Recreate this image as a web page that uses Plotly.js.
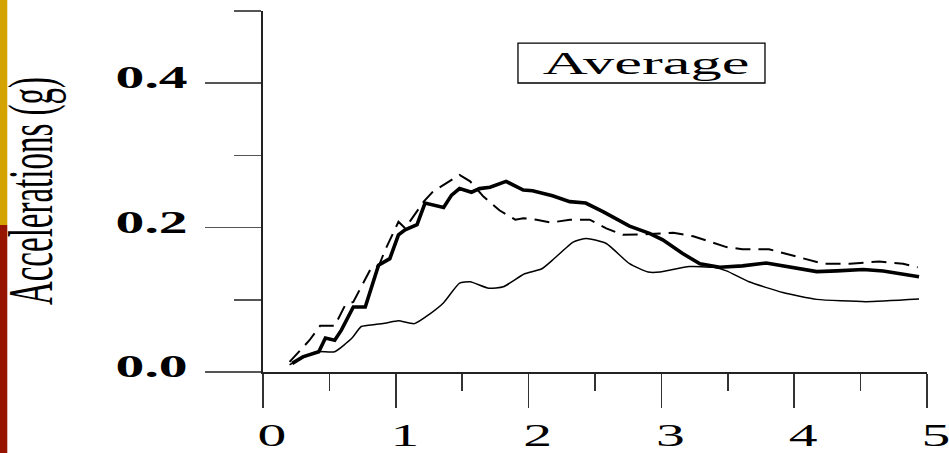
<!DOCTYPE html>
<html>
<head>
<meta charset="utf-8">
<script src="https://cdn.plot.ly/plotly-3.0.1.min.js"></script>
<style>
  html, body { margin: 0; padding: 0; background: #ffffff; }
  #chart { width: 949px; height: 453px; }
</style>
</head>
<body>
<div id="chart"></div>
<script>
// ---- data ----
var thickX = [0.22,0.30,0.42,0.47,0.54,0.59,0.68,0.77,0.87,0.955,1.02,1.07,1.16,1.22,1.36,1.42,1.48,1.57,1.63,1.71,1.83,1.96,2.03,2.18,2.31,2.43,2.56,2.76,2.91,3.01,3.16,3.29,3.44,3.61,3.79,3.965,4.17,4.32,4.52,4.67,4.94];
var thickY = [0.012,0.021,0.028,0.047,0.044,0.058,0.090,0.090,0.148,0.157,0.190,0.197,0.204,0.234,0.228,0.245,0.254,0.249,0.254,0.256,0.264,0.252,0.251,0.244,0.236,0.234,0.222,0.202,0.192,0.183,0.164,0.150,0.145,0.147,0.151,0.145,0.139,0.140,0.142,0.140,0.132];

var dashX = [0.20,0.35,0.43,0.54,0.62,0.68,0.82,0.87,0.92,1.02,1.07,1.21,1.28,1.48,1.56,1.66,1.78,1.90,1.96,2.06,2.17,2.31,2.46,2.585,2.71,2.91,3.09,3.24,3.49,3.61,3.81,4.07,4.22,4.42,4.64,4.82,4.93];
var dashY = [0.014,0.044,0.064,0.064,0.093,0.097,0.146,0.146,0.169,0.208,0.199,0.236,0.250,0.273,0.264,0.243,0.224,0.211,0.213,0.211,0.207,0.211,0.211,0.199,0.190,0.191,0.193,0.188,0.173,0.170,0.170,0.157,0.150,0.150,0.153,0.150,0.145];

var thinX = [0.20,0.40,0.54,0.67,0.74,0.855,0.93,1.02,1.14,1.26,1.36,1.48,1.56,1.70,1.81,1.97,2.10,2.18,2.335,2.435,2.585,2.76,2.90,2.99,3.21,3.39,3.49,3.66,3.915,4.17,4.54,4.94];
var thinY = [0.010,0.028,0.028,0.047,0.063,0.066,0.068,0.071,0.067,0.081,0.096,0.123,0.125,0.116,0.118,0.136,0.143,0.155,0.180,0.185,0.178,0.150,0.1385,0.1385,0.146,0.145,0.140,0.125,0.110,0.1006,0.0974,0.101];

var xTickVals = [0,1,2,3,4,5];
var xTickText = ['0','1','2','3','4','5'];
var yTickVals = [0,0.2,0.4];
var yTickText = ['0.0','0.2','0.4'];
var yTitleText = 'Accelerations (g)';
var boxText = 'Average';

var SERIF = 'Liberation Serif, Times New Roman, serif';

var traces = [
  { x: thinX, y: thinY, type: 'scatter', mode: 'lines', name: 'Spectrum 3',
    line: { color: '#000000', width: 1.5, shape: 'spline', smoothing: 0.5 } },
  { x: dashX, y: dashY, type: 'scatter', mode: 'lines', name: 'Spectrum 2',
    line: { color: '#000000', width: 2, dash: '15px,8px' } },
  { x: thickX, y: thickY, type: 'scatter', mode: 'lines', name: 'Spectrum 1',
    line: { color: '#000000', width: 3.6 } }
];

var layout = {
  width: 949, height: 453,
  margin: { l: 263, r: 22, t: 11, b: 81 },
  paper_bgcolor: '#ffffff', plot_bgcolor: '#ffffff',
  showlegend: false,
  font: { family: SERIF, color: '#000000' },
  xaxis: {
    range: [0, 5], showgrid: false, zeroline: false,
    showline: true, linecolor: '#222222', linewidth: 2,
    ticks: 'outside', ticklen: 34, tickwidth: 1.5, tickcolor: '#333333',
    tickmode: 'array', tickvals: xTickVals, ticktext: xTickText,
    tickfont: { family: SERIF, size: 32, color: '#000000' },
    ticklabelshift: 9, ticklabelstandoff: 0,
    minor: { dtick: 0.5, ticks: 'outside', ticklen: 17, tickwidth: 1.5, tickcolor: '#333333' }
  },
  yaxis: {
    range: [0, 0.5], showgrid: false, zeroline: false,
    showline: true, linecolor: '#222222', linewidth: 2,
    ticks: 'outside', ticklen: 56, tickwidth: 1.5, tickcolor: '#555555',
    tickmode: 'array', tickvals: yTickVals, ticktext: yTickText,
    tickfont: { family: SERIF, size: 32, color: '#000000', weight: 'bold' },
    ticklabelshift: -6, ticklabelstandoff: 27,
    minor: { dtick: 0.1, ticks: 'outside', ticklen: 27, tickwidth: 1.5, tickcolor: '#555555' }
  },
  shapes: [
    { type: 'rect', xref: 'paper', yref: 'paper', x0: -0.42, x1: -0.38509, y0: 0.4072, y1: 1.06,
      fillcolor: '#D4A300', line: { width: 0 }, layer: 'below' },
    { type: 'rect', xref: 'paper', yref: 'paper', x0: -0.42, x1: -0.38509, y0: -0.26, y1: 0.4072,
      fillcolor: '#961400', line: { width: 0 }, layer: 'below' },
    { type: 'rect', xref: 'paper', yref: 'paper', x0: 0.384, x1: 0.756, y0: 0.8006, y1: 0.911,
      fillcolor: 'rgba(0,0,0,0)', line: { color: '#000000', width: 1.3 } }
  ],
  annotations: [
    { xref: 'paper', yref: 'paper', x: 0.577, y: 0.856, xanchor: 'center', yanchor: 'middle',
      text: boxText, showarrow: false, font: { family: SERIF, size: 32, color: '#000000' } },
    { xref: 'paper', yref: 'paper', x: -0.3494, y: 0.501, xanchor: 'center', yanchor: 'middle',
      text: yTitleText, textangle: -90, showarrow: false,
      font: { family: SERIF, size: 33, color: '#000000' } }
  ]
};

// The reference's lettering is widened horizontally; widen the drawn text the same way.
function stretchText(t, sx) {
  var svg = t.ownerSVGElement;
  if (!svg) return;
  var bb = t.getBBox();
  var m = t.getCTM();
  var pm = t.parentNode.getCTM();
  if (!m || !pm) return;
  var corners = [[bb.x, bb.y], [bb.x + bb.width, bb.y], [bb.x, bb.y + bb.height], [bb.x + bb.width, bb.y + bb.height]];
  var xs = corners.map(function (c) {
    var p = svg.createSVGPoint(); p.x = c[0]; p.y = c[1];
    return p.matrixTransform(m).x;
  });
  var ax = (Math.min.apply(null, xs) + Math.max.apply(null, xs)) / 2;
  var S = svg.createSVGMatrix().translate(ax, 0).scaleNonUniform(sx, 1).translate(-ax, 0);
  var L = pm.inverse().multiply(S).multiply(m);
  t.setAttribute('transform', 'matrix(' + [L.a, L.b, L.c, L.d, L.e, L.f].join(',') + ')');
}

var gd = document.getElementById('chart');
Plotly.newPlot(gd, traces, layout, { staticPlot: true, displayModeBar: false }).then(function () {
  gd.querySelectorAll('.xtick text, .ytick text').forEach(function (t) { stretchText(t, 1.8); });
  var ann = gd.querySelectorAll('.annotation-text');
  if (ann[0]) stretchText(ann[0], 1.95);
  if (ann[1]) stretchText(ann[1], 1.95);
});
</script>
</body>
</html>
